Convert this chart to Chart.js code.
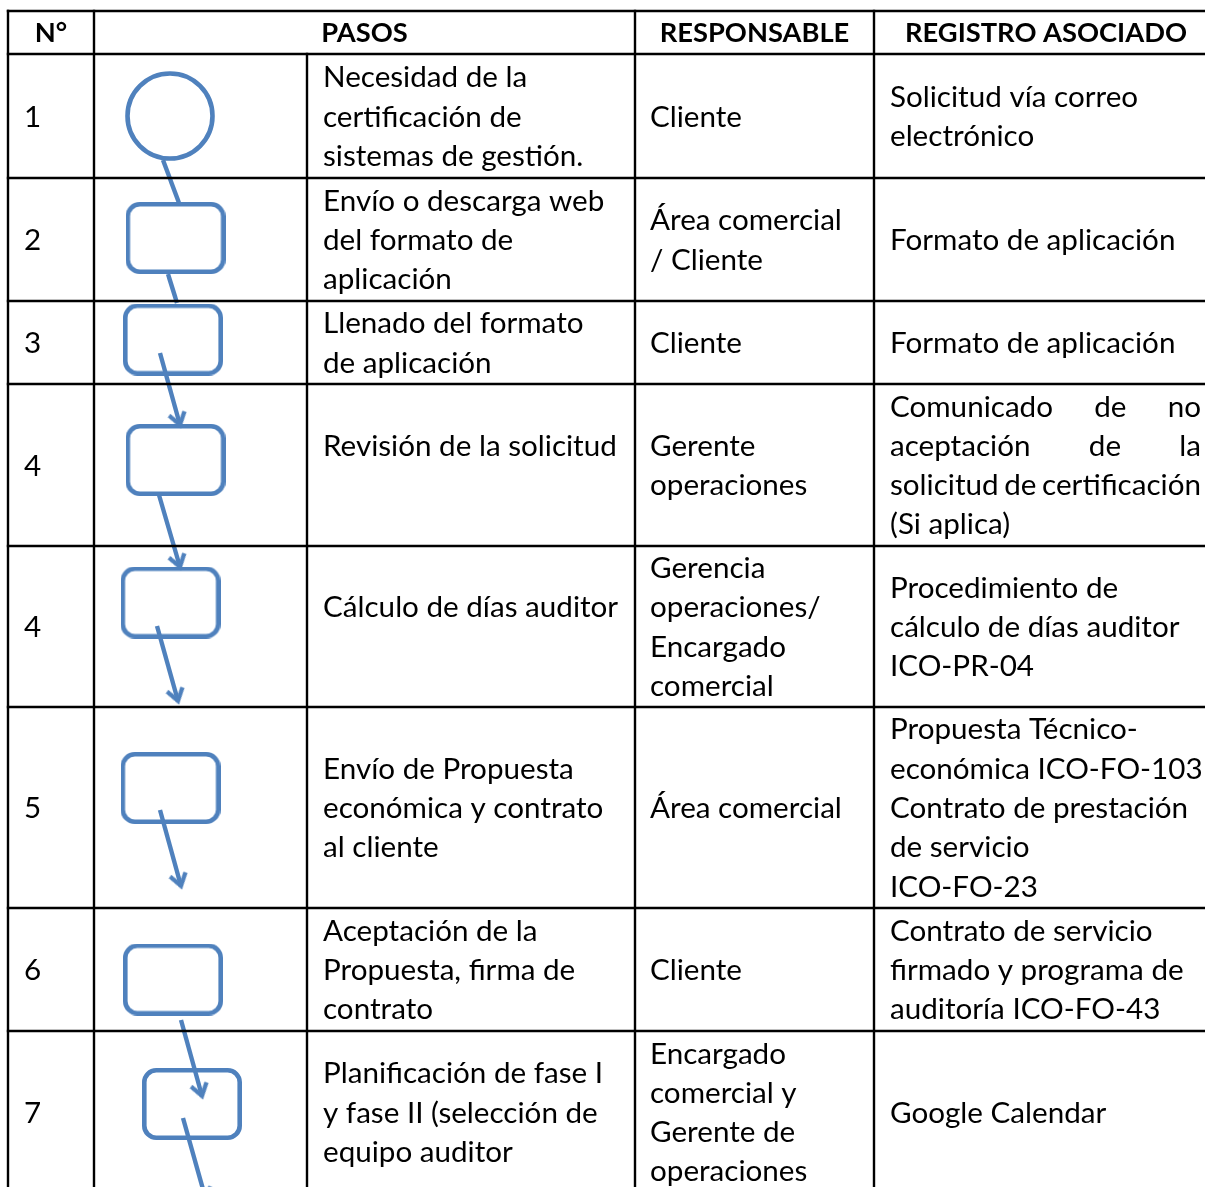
<!DOCTYPE html>
<html><head><meta charset="utf-8">
<script src="https://cdn.jsdelivr.net/npm/chart.js@4.4.0/dist/chart.umd.min.js"></script>
<style>html,body{margin:0;padding:0;background:#fff}#wrap{width:1205px;height:1187px;position:relative}</style>
</head><body><div id="wrap"><canvas id="c" width="1205" height="1187"></canvas></div>
<script>
// ---- data ----
const headers = ['N°', 'PASOS', 'RESPONSABLE', 'REGISTRO ASOCIADO'];
const stepNumbers = ['1', '2', '3', '4', '4', '5', '6', '7'];
const pasos = [
  ['Necesidad de la', 'certificación de', 'sistemas de gestión.'],
  ['Envío o descarga web', 'del formato de', 'aplicación'],
  ['Llenado del formato', 'de aplicación'],
  ['Revisión de la solicitud', ''],
  ['Cálculo de días auditor', ''],
  ['Envío de Propuesta', 'económica y contrato', 'al cliente'],
  ['Aceptación de la', 'Propuesta, firma de', 'contrato'],
  ['Planificación de fase I', 'y fase II (selección de', 'equipo auditor']
];
const responsables = [
  ['Cliente'],
  ['Área comercial', '/ Cliente'],
  ['Cliente'],
  ['Gerente', 'operaciones'],
  ['Gerencia', 'operaciones/', 'Encargado', 'comercial'],
  ['Área comercial'],
  ['Cliente'],
  ['Encargado', 'comercial y', 'Gerente de', 'operaciones']
];
const registros = [
  ['Solicitud vía correo', 'electrónico'],
  ['Formato de aplicación'],
  ['Formato de aplicación'],
  ['Comunicado de no', 'aceptación de la', 'solicitud de certificación', '(Si aplica)'],
  ['Procedimiento de', 'cálculo de días auditor', 'ICO-PR-04'],
  ['Propuesta Técnico-', 'económica ICO-FO-103', 'Contrato de prestación', 'de servicio', 'ICO-FO-23'],
  ['Contrato de servicio', 'firmado y programa de', 'auditoría ICO-FO-43'],
  ['Google Calendar']
];
const justifiedRegistroRows = [3];
// table grid (column and row boundaries in page units)
const colBounds = [8, 94, 307, 635, 874, 1218];
const rowBounds = [11, 54, 178, 301, 384, 546, 707, 908, 1031, 1193];
// flowchart shapes
const circleCenters = [{x: 170, y: 116}];
const boxCenters = [
  {x: 175.5, y: 238}, {x: 173, y: 339.5}, {x: 175.5, y: 460}, {x: 170.5, y: 602.5},
  {x: 170.5, y: 788}, {x: 173, y: 979.5}, {x: 192, y: 1104}
];
const arrowStarts = [
  {x: 163, y: 160}, {x: 168, y: 274}, {x: 160, y: 353}, {x: 159, y: 495},
  {x: 157, y: 626}, {x: 160, y: 810}, {x: 181, y: 1020}, {x: 183, y: 1118}
];
const arrowEnds = [
  {x: 179, y: 203}, {x: 177, y: 303}, {x: 180, y: 425}, {x: 180, y: 567},
  {x: 178, y: 701}, {x: 181, y: 886}, {x: 202, y: 1096}, {x: 206, y: 1200}
];
const arrowHasHead = [false, false, true, true, true, true, true, true];

// ---- styles ----
const BLUE = '#4F81BD';
const PAGE_W = 1205, PAGE_H = 1187;

function makeBox() {
  const c = document.createElement('canvas');
  c.width = 100; c.height = 72;
  const g = c.getContext('2d');
  g.strokeStyle = BLUE; g.lineWidth = 4.6;
  g.beginPath();
  g.roundRect(2.3, 2.3, 95.4, 67.4, 12);
  g.stroke();
  return c;
}
function makeHead() {
  const c = document.createElement('canvas');
  c.width = 40; c.height = 40;
  const g = c.getContext('2d');
  g.strokeStyle = BLUE; g.lineWidth = 4.2; g.lineJoin = 'miter'; g.lineCap = 'butt';
  g.beginPath();
  g.moveTo(12, 8); g.lineTo(20, 20); g.lineTo(28, 8);
  g.stroke();
  return c;
}
const boxImg = makeBox();
const headImg = makeHead();

// ---- datasets ----
const datasets = [];
const lastCol = PAGE_W;
rowBounds.slice(0, -1).forEach(y => {
  datasets.push({data: [{x: colBounds[0], y}, {x: lastCol, y}], showLine: true,
    borderColor: '#000', borderWidth: 2.4, pointRadius: 0, borderCapStyle: 'square'});
});
colBounds.slice(0, -1).forEach((x, i) => {
  const y0 = (i === 2) ? rowBounds[1] : rowBounds[0];
  datasets.push({data: [{x, y: y0}, {x, y: PAGE_H + 5}], showLine: true,
    borderColor: '#000', borderWidth: 2.4, pointRadius: 0, borderCapStyle: 'square'});
});
datasets.push({data: circleCenters, pointStyle: 'circle', pointRadius: 42.5,
  pointBorderWidth: 4.6, pointBorderColor: BLUE, pointBackgroundColor: 'rgba(0,0,0,0)'});
datasets.push({data: boxCenters, pointStyle: boxImg, pointRadius: 10});
arrowStarts.forEach((s, i) => {
  datasets.push({data: [s, arrowEnds[i]], showLine: true, borderColor: BLUE,
    borderWidth: 4.4, pointRadius: 0, borderCapStyle: 'butt'});
});
const headPts = [], headRot = [];
arrowEnds.forEach((e, i) => {
  if (!arrowHasHead[i]) return;
  const s = arrowStarts[i];
  headPts.push(e);
  headRot.push(-Math.atan2(e.x - s.x, e.y - s.y) * 180 / Math.PI);
});
datasets.push({data: headPts, pointStyle: headImg, pointRadius: 20, pointRotation: headRot});

// ---- text plugin ----
const tablePlugin = {
  id: 'tableText',
  afterDatasetsDraw(chart) {
    const ctx = chart.ctx;
    const xs = chart.scales.x, ys = chart.scales.y;
    const X = v => xs.getPixelForValue(v), Y = v => ys.getPixelForValue(v);
    const FAM = 'Lato, "Liberation Sans", sans-serif';
    ctx.save();
    ctx.font = '100px ' + FAM;
    const bodySize = 100 * 294 / ctx.measureText('Revisión de la solicitud').width;
    ctx.font = 'bold 100px ' + FAM;
    const headSize = 100 * 282 / ctx.measureText('REGISTRO ASOCIADO').width;
    const LH = 39.3;
    ctx.fillStyle = '#000';
    ctx.textBaseline = 'middle';
    ctx.font = 'bold ' + headSize + 'px ' + FAM;
    ctx.textAlign = 'center';
    const hy = (Y(rowBounds[0]) + Y(rowBounds[1])) / 2 + 1;
    const hCols = [[0, 1], [1, 3], [3, 4], [4, 5]];
    headers.forEach((h, i) => {
      const [a, b] = hCols[i];
      ctx.fillText(h, (X(colBounds[a]) + X(colBounds[b])) / 2, hy);
    });
    ctx.font = bodySize + 'px ' + FAM;
    ctx.textAlign = 'left';
    const drawCell = (lines, x, cy, justifyW) => {
      const n = lines.length;
      lines.forEach((t, k) => {
        const y = cy + (k - (n - 1) / 2) * LH;
        if (justifyW && k < n - 1) {
          const words = t.split(' ');
          const ww = words.reduce((s, w) => s + ctx.measureText(w).width, 0);
          const gap = (justifyW - ww) / (words.length - 1);
          let cx = x;
          words.forEach(w => { ctx.fillText(w, cx, y); cx += ctx.measureText(w).width + gap; });
        } else {
          ctx.fillText(t, x, y);
        }
      });
    };
    for (let r = 0; r < stepNumbers.length; r++) {
      const cy = (Y(rowBounds[r + 1]) + Y(rowBounds[r + 2])) / 2 + 1;
      drawCell([stepNumbers[r]], X(colBounds[0]) + 16, cy);
      drawCell(pasos[r], X(colBounds[2]) + 16, cy);
      drawCell(responsables[r], X(colBounds[3]) + 15, cy);
      drawCell(registros[r], X(colBounds[4]) + 16, cy,
        justifiedRegistroRows.includes(r) ? (X(1201) - (X(colBounds[4]) + 16)) : 0);
    }
    ctx.restore();
  }
};

new Chart(document.getElementById('c'), {
  type: 'scatter',
  data: {datasets},
  options: {
    responsive: false, animation: false, events: [],
    layout: {padding: 0, autoPadding: false},
    plugins: {legend: {display: false}, tooltip: {enabled: false}},
    scales: {
      x: {type: 'linear', min: 0, max: PAGE_W, display: false},
      y: {type: 'linear', min: 0, max: PAGE_H, reverse: true, display: false}
    }
  },
  plugins: [tablePlugin]
});
</script>
</body></html>
